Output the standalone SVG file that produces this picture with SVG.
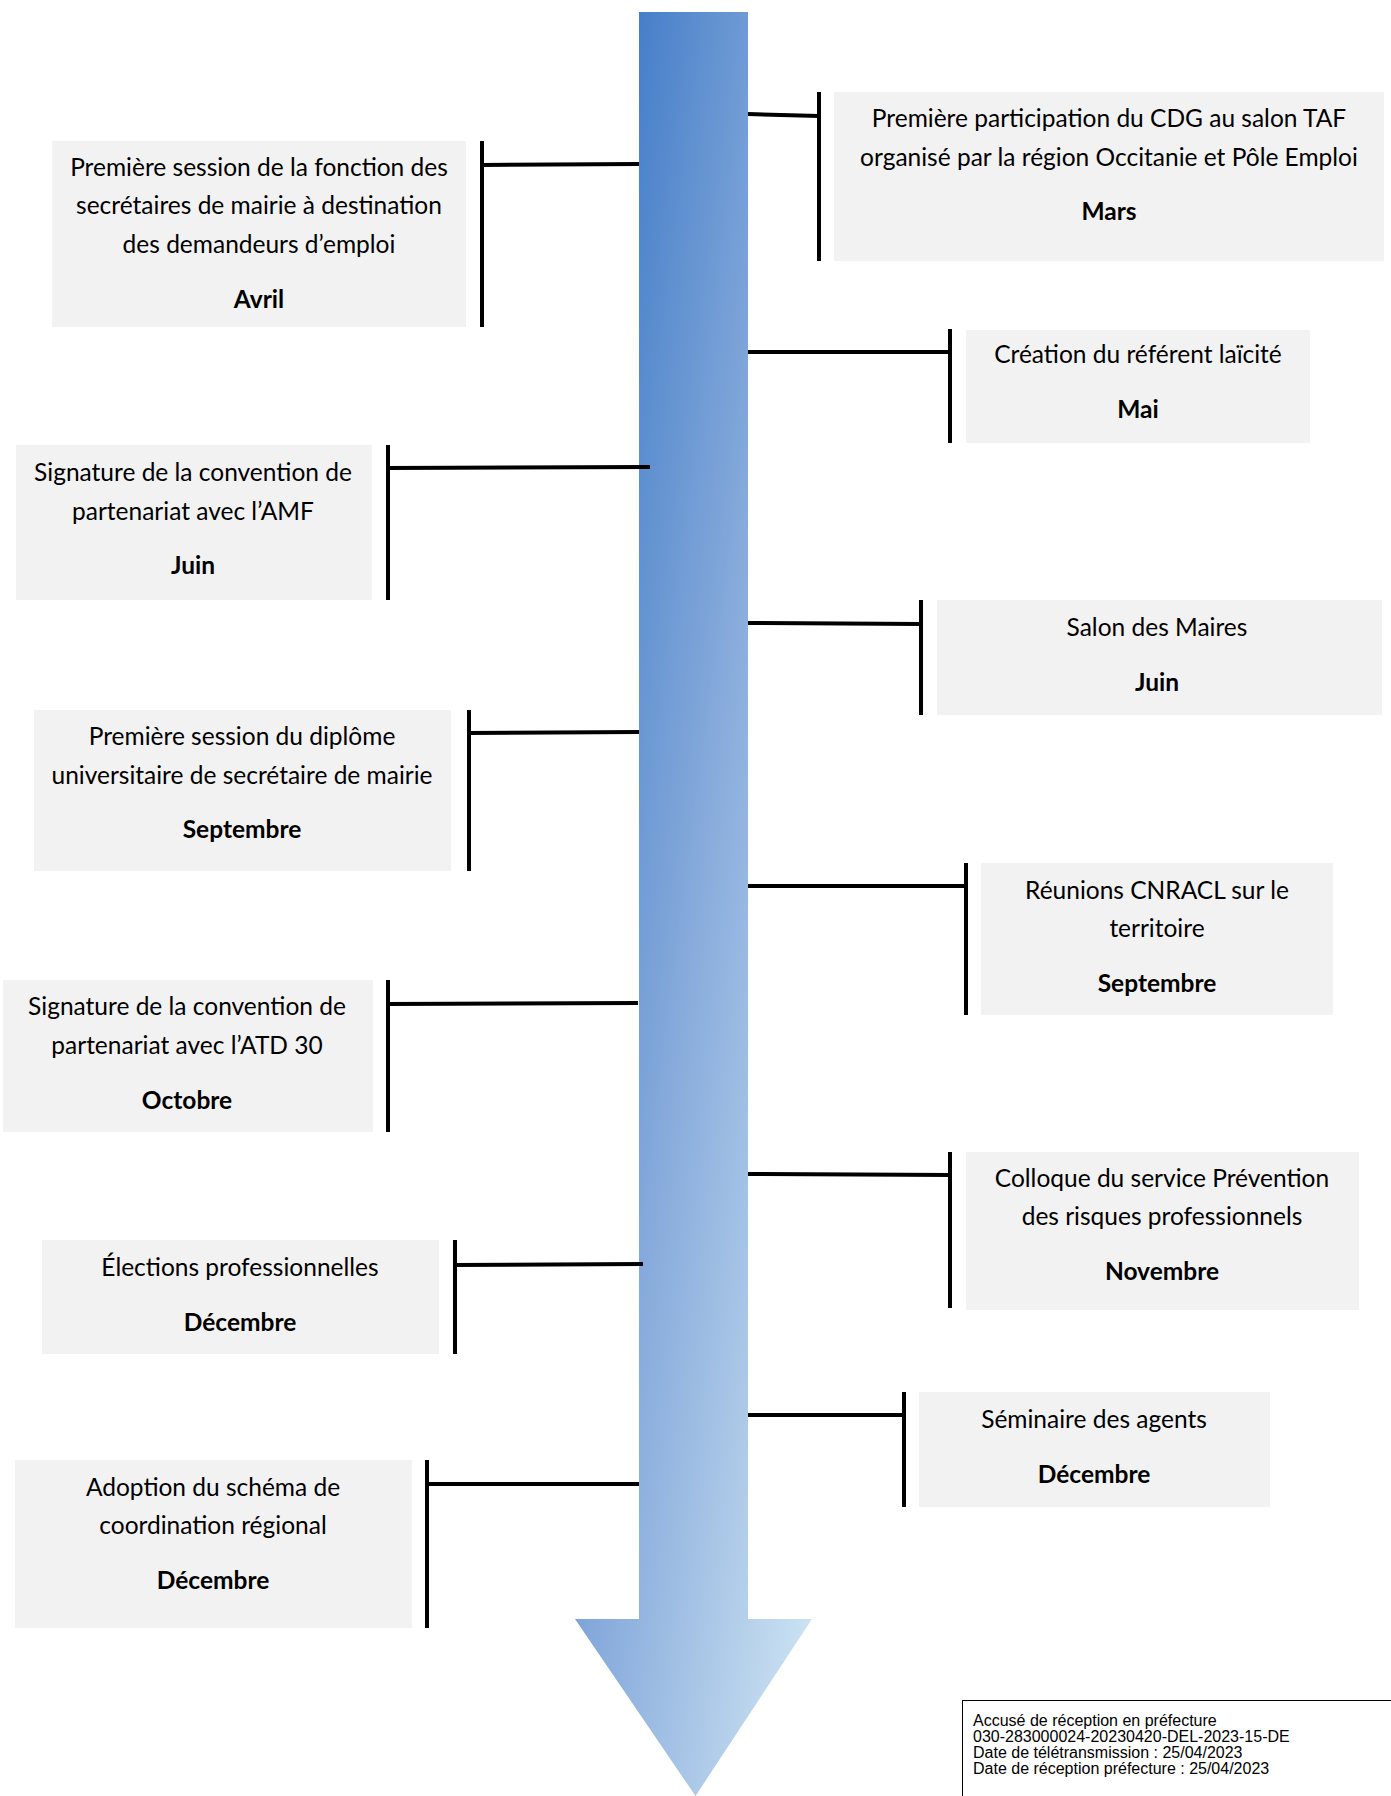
<svg xmlns="http://www.w3.org/2000/svg" width="1391" height="1796" viewBox="0 0 1391 1796">
<style>
.box{fill:#f2f2f2}
.bar{stroke:#000;stroke-width:4;fill:none}
.t{font-family:Lato,"Open Sans",sans-serif;font-size:24.5px;fill:#000;text-anchor:middle}
.b{font-weight:bold}
.s{font-family:"Liberation Sans",Arial,sans-serif;font-size:16px;fill:#000}
</style>
<defs>
<linearGradient id="g" x1="0" y1="0" x2="1" y2="1">
<stop offset="0" stop-color="#2e6fc2"/>
<stop offset="0.5" stop-color="#86aadb"/>
<stop offset="1" stop-color="#d3e8f5"/>
</linearGradient>
</defs>
<rect width="1391" height="1796" fill="#fff"/>
<g id="arrow">
<path d="M639,12 L748,12 L748,1619 L812,1619 L695.5,1796 L575,1619 L639,1619 Z" fill="url(#g)"/>
</g>
<g id="connectors" class="bar">
<line x1="748" y1="114" x2="819" y2="116"/>
<line x1="819" y1="92" x2="819" y2="261"/>
<line x1="748" y1="352" x2="950" y2="352"/>
<line x1="950" y1="329" x2="950" y2="443"/>
<line x1="748" y1="623" x2="921" y2="624"/>
<line x1="921" y1="600" x2="921" y2="715"/>
<line x1="748" y1="886" x2="966" y2="886"/>
<line x1="966" y1="863" x2="966" y2="1015"/>
<line x1="748" y1="1174" x2="950" y2="1175"/>
<line x1="950" y1="1152" x2="950" y2="1308"/>
<line x1="748" y1="1415" x2="904" y2="1415"/>
<line x1="904" y1="1392" x2="904" y2="1507"/>
<line x1="482" y1="165" x2="639" y2="164"/>
<line x1="482" y1="141" x2="482" y2="327"/>
<line x1="388" y1="468" x2="650" y2="467"/>
<line x1="388" y1="445" x2="388" y2="600"/>
<line x1="469" y1="733" x2="639" y2="732"/>
<line x1="469" y1="710" x2="469" y2="871"/>
<line x1="388" y1="1004" x2="638" y2="1003"/>
<line x1="388" y1="980" x2="388" y2="1132"/>
<line x1="455" y1="1265" x2="643" y2="1264"/>
<line x1="455" y1="1240" x2="455" y2="1354"/>
<line x1="427" y1="1484" x2="639" y2="1484"/>
<line x1="427" y1="1460" x2="427" y2="1628"/>
</g>
<g id="n-mars">
<rect class="box" x="834" y="92" width="550" height="169"/>
<text class="t" x="1109" y="127">Première participation du CDG au salon TAF</text>
<text class="t" x="1109" y="166">organisé par la région Occitanie et Pôle Emploi</text>
<text class="t b" x="1109" y="220">Mars</text>
</g>
<g id="n-mai">
<rect class="box" x="966" y="330" width="344" height="113"/>
<text class="t" x="1138" y="363">Création du référent laïcité</text>
<text class="t b" x="1138" y="418">Mai</text>
</g>
<g id="n-salon">
<rect class="box" x="937" y="600" width="445" height="115"/>
<text class="t" x="1157" y="636">Salon des Maires</text>
<text class="t b" x="1157" y="691">Juin</text>
</g>
<g id="n-cnracl">
<rect class="box" x="981" y="863" width="352" height="152"/>
<text class="t" x="1157" y="899">Réunions CNRACL sur le</text>
<text class="t" x="1157" y="937">territoire</text>
<text class="t b" x="1157" y="992">Septembre</text>
</g>
<g id="n-colloque">
<rect class="box" x="966" y="1152" width="393" height="158"/>
<text class="t" x="1162" y="1187">Colloque du service Prévention</text>
<text class="t" x="1162" y="1225">des risques professionnels</text>
<text class="t b" x="1162" y="1280">Novembre</text>
</g>
<g id="n-seminaire">
<rect class="box" x="919" y="1392" width="351" height="115"/>
<text class="t" x="1094" y="1428">Séminaire des agents</text>
<text class="t b" x="1094" y="1483">Décembre</text>
</g>
<g id="n-avril">
<rect class="box" x="52" y="141" width="414" height="186"/>
<text class="t" x="259" y="176">Première session de la fonction des</text>
<text class="t" x="259" y="214">secrétaires de mairie à destination</text>
<text class="t" x="259" y="253">des demandeurs d’emploi</text>
<text class="t b" x="259" y="308">Avril</text>
</g>
<g id="n-amf">
<rect class="box" x="16" y="445" width="356" height="155"/>
<text class="t" x="193" y="481">Signature de la convention de</text>
<text class="t" x="193" y="520">partenariat avec l’AMF</text>
<text class="t b" x="193" y="574">Juin</text>
</g>
<g id="n-diplome">
<rect class="box" x="34" y="710" width="417" height="161"/>
<text class="t" x="242" y="745">Première session du diplôme</text>
<text class="t" x="242" y="784">universitaire de secrétaire de mairie</text>
<text class="t b" x="242" y="838">Septembre</text>
</g>
<g id="n-atd">
<rect class="box" x="3" y="980" width="370" height="152"/>
<text class="t" x="187" y="1015">Signature de la convention de</text>
<text class="t" x="187" y="1054">partenariat avec l’ATD 30</text>
<text class="t b" x="187" y="1109">Octobre</text>
</g>
<g id="n-elections">
<rect class="box" x="42" y="1240" width="397" height="114"/>
<text class="t" x="240" y="1276">Élections professionnelles</text>
<text class="t b" x="240" y="1331">Décembre</text>
</g>
<g id="n-schema">
<rect class="box" x="15" y="1460" width="397" height="168"/>
<text class="t" x="213" y="1496">Adoption du schéma de</text>
<text class="t" x="213" y="1534">coordination régional</text>
<text class="t b" x="213" y="1589">Décembre</text>
</g>
<g id="stamp">
<rect x="962.5" y="1700.5" width="440" height="110" fill="#fff" stroke="#000" stroke-width="1"/>
<text class="s" x="973" y="1726">Accusé de réception en préfecture</text>
<text class="s" x="973" y="1742">030-283000024-20230420-DEL-2023-15-DE</text>
<text class="s" x="973" y="1758">Date de télétransmission : 25/04/2023</text>
<text class="s" x="973" y="1774">Date de réception préfecture : 25/04/2023</text>
</g>
</svg>
